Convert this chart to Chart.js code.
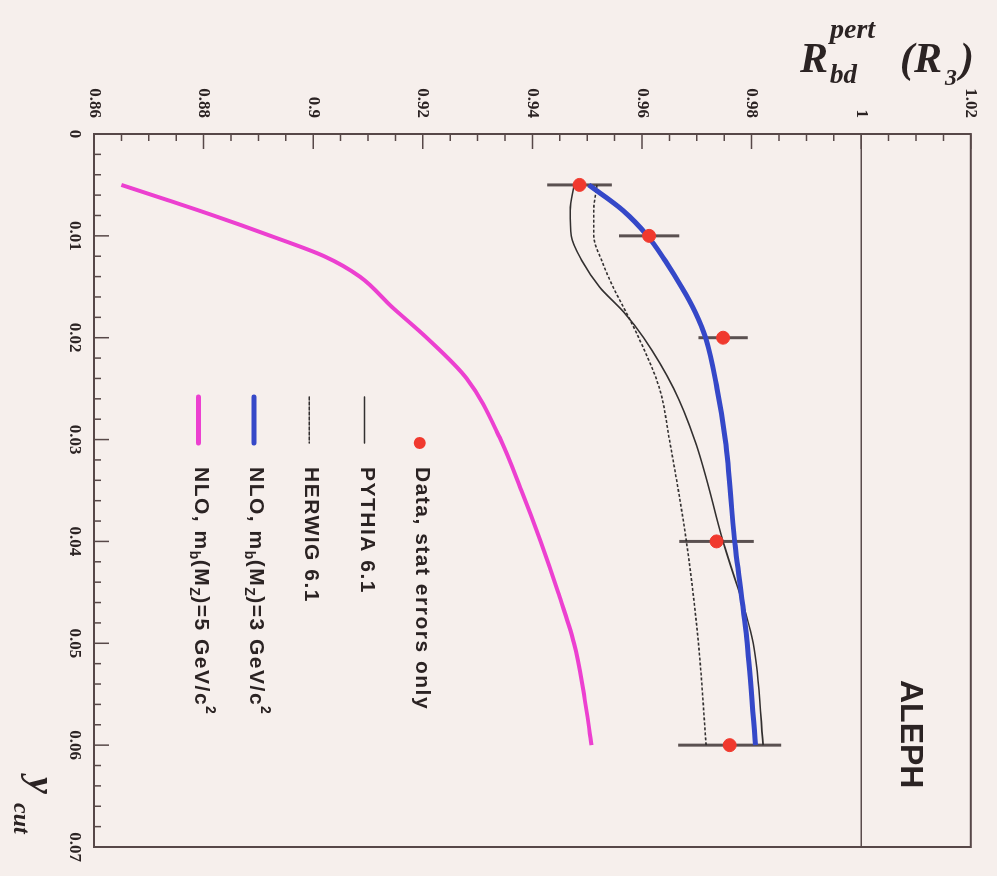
<!DOCTYPE html>
<html>
<head>
<meta charset="utf-8">
<script src="https://cdn.jsdelivr.net/npm/chart.js@4.4.0/dist/chart.umd.min.js"></script>
<style>
html, body { margin: 0; padding: 0; background: #f6efec; overflow: hidden; }
#wrap {
    position: absolute; left: 0; top: 0;
    width: 876px; height: 997px;
    transform-origin: 0 0;
    transform: translateX(997px) rotate(90deg);
}
</style>
</head>
<body>
<div id="wrap"><canvas id="chart" width="876" height="997"></canvas></div>
<script>
// measured points (y_cut, R) with stat errors
const dataYCut = [0.005, 0.01, 0.02, 0.04, 0.06];
const dataR = [0.9486, 0.9613, 0.9748, 0.9736, 0.9760];
const dataErr = [0.0059, 0.0055, 0.0045, 0.0068, 0.0094];

// MC / NLO curves
const curveYCut = [0.005, 0.0075, 0.01, 0.0125, 0.015, 0.0175, 0.02, 0.025, 0.03, 0.04, 0.05, 0.06];
const pythiaR = [0.9476, 0.9469, 0.9471, 0.9491, 0.9522, 0.9567, 0.9603, 0.9658, 0.9696, 0.9748, 0.9803, 0.9821];
const herwigR = [0.9518, 0.9512, 0.9512, 0.9527, 0.9547, 0.9571, 0.9594, 0.9632, 0.9650, 0.9681, 0.9703, 0.9717];
const nlo3R = [0.9503, 0.9565, 0.9610, 0.9643, 0.9672, 0.9697, 0.9716, 0.9737, 0.9752, 0.9769, 0.9792, 0.9807];

const nlo5YCut = [0.005, 0.0065, 0.008, 0.01, 0.012, 0.014, 0.017, 0.02, 0.024, 0.03, 0.035, 0.04, 0.045, 0.05, 0.055, 0.06];
const nlo5R = [0.8650, 0.8735, 0.8818, 0.8922, 0.9020, 0.9085, 0.9144, 0.9207, 0.9280, 0.9342, 0.9380, 0.9415, 0.9447, 0.9476, 0.9494, 0.9508];

// reference line at R = 1
const refYCut = [0, 0.07];
const refR = [1, 1];

// axes
const xTickValues = [0, 0.01, 0.02, 0.03, 0.04, 0.05, 0.06, 0.07];
const xTickLabels = ['0', '0.01', '0.02', '0.03', '0.04', '0.05', '0.06', '0.07'];
const yTickValues = [0.86, 0.88, 0.90, 0.92, 0.94, 0.96, 0.98, 1.00, 1.02];
const yTickLabels = ['0.86', '0.88', '0.9', '0.92', '0.94', '0.96', '0.98', '1', '1.02'];

const legendLabels = [
    [['Data, stat errors only', 'n']],
    [['PYTHIA 6.1', 'n']],
    [['HERWIG 6.1', 'n']],
    [['NLO, m', 'n'], ['b', 'sub'], ['(M', 'n'], ['Z', 'sub'], [')=3 GeV/c', 'n'], ['2', 'sup']],
    [['NLO, m', 'n'], ['b', 'sub'], ['(M', 'n'], ['Z', 'sub'], [')=5 GeV/c', 'n'], ['2', 'sup']]
];

const RED = '#f0392e';
const BLUE = '#3548c8';
const PINK = '#ec40d0';
const DARK = '#333030';
const INK = '#2b2323';

function pts(xs, ys) {
    return xs.map((v, i) => ({ x: v, y: ys[i] }));
}

function drawRich(ctx, parts, x, y, size) {
    let cx = x;
    parts.forEach(([text, kind]) => {
        const small = kind !== 'n';
        ctx.font = 'bold ' + (small ? Math.round(size * 0.68) : size) + 'px "Liberation Sans", Arial, sans-serif';
        ctx.letterSpacing = small ? '0.5px' : '1.5px';
        const dy = kind === 'sub' ? size * 0.32 : (kind === 'sup' ? -size * 0.42 : 0);
        ctx.fillText(text, cx, y + dy);
        cx += ctx.measureText(text).width;
    });
    ctx.letterSpacing = '0px';
}

const overlay = {
    id: 'overlay',
    beforeDatasetsDraw(chart) {
        const { ctx, scales: { x, y } } = chart;
        ctx.save();
        ctx.strokeStyle = '#5a5050';
        ctx.lineWidth = 3;
        dataYCut.forEach((v, i) => {
            const px = x.getPixelForValue(v);
            ctx.beginPath();
            ctx.moveTo(px, y.getPixelForValue(dataR[i] - dataErr[i]));
            ctx.lineTo(px, y.getPixelForValue(dataR[i] + dataErr[i]));
            ctx.stroke();
        });
        ctx.restore();
    },
    afterDraw(chart) {
        const { ctx, chartArea: a, scales: { x, y } } = chart;
        ctx.save();

        // frame
        ctx.strokeStyle = '#574848';
        ctx.lineWidth = 2;
        ctx.strokeRect(a.left, a.top, a.right - a.left, a.bottom - a.top);

        // inward ticks
        ctx.lineWidth = 1.5;
        ctx.beginPath();
        for (let k = 0; k <= 35; k++) {
            const px = x.getPixelForValue(k * 0.002);
            const len = k % 5 === 0 ? 15 : 7;
            ctx.moveTo(px, a.bottom);
            ctx.lineTo(px, a.bottom - len);
        }
        for (let k = 0; k <= 32; k++) {
            const py = y.getPixelForValue(0.86 + k * 0.005);
            const len = k % 4 === 0 ? 15 : 7;
            ctx.moveTo(a.left, py);
            ctx.lineTo(a.left + len, py);
        }
        ctx.stroke();

        // legend
        const rowY0 = a.top + 549;
        const rowStep = 55.3;
        const symX0 = a.left + 263;
        const symX1 = a.left + 309;
        const textX = a.left + 333;
        const styles = [
            { kind: 'point', color: RED },
            { kind: 'line', color: DARK, width: 1.6, dash: [] },
            { kind: 'line', color: DARK, width: 1.6, dash: [3, 2] },
            { kind: 'line', color: BLUE, width: 5, dash: [] },
            { kind: 'line', color: PINK, width: 5, dash: [] }
        ];
        legendLabels.forEach((parts, i) => {
            const ry = rowY0 + i * rowStep;
            const st = styles[i];
            if (st.kind === 'point') {
                ctx.fillStyle = st.color;
                ctx.beginPath();
                ctx.arc(symX1, ry + 2, 6, 0, Math.PI * 2);
                ctx.fill();
            } else {
                ctx.strokeStyle = st.color;
                ctx.lineWidth = st.width;
                ctx.lineCap = 'round';
                ctx.setLineDash(st.dash);
                ctx.beginPath();
                ctx.moveTo(symX0, ry + 2);
                ctx.lineTo(symX1, ry + 2);
                ctx.stroke();
                ctx.setLineDash([]);
                ctx.lineCap = 'butt';
            }
            ctx.fillStyle = INK;
            ctx.textBaseline = 'middle';
            ctx.textAlign = 'left';
            drawRich(ctx, parts, textX, ry, 21);
        });

        // experiment label
        ctx.fillStyle = INK;
        ctx.textBaseline = 'middle';
        ctx.font = 'bold 32px "Liberation Sans", Arial, sans-serif';
        ctx.fillText('ALEPH', a.left + 546, a.top + 61);

        // x axis title
        ctx.textBaseline = 'alphabetic';
        ctx.font = 'italic bold 38px "Liberation Serif", serif';
        ctx.fillText('y', a.right - 70, 968);
        ctx.font = 'italic bold 24px "Liberation Serif", serif';
        ctx.fillText('cut', a.right - 44, 983);

        // y axis title (reads upright once the page is turned)
        ctx.translate(0, chart.height);
        ctx.rotate(-Math.PI / 2);
        ctx.font = 'italic bold 42px "Liberation Serif", serif';
        ctx.fillText('R', 800, 72);
        ctx.fillText('(', 900, 72);
        ctx.fillText('R', 914, 72);
        ctx.fillText(')', 960, 72);
        ctx.font = 'italic bold 28px "Liberation Serif", serif';
        ctx.fillText('pert', 830, 38);
        ctx.font = 'italic bold 27px "Liberation Serif", serif';
        ctx.fillText('bd', 830, 83);
        ctx.font = 'italic bold 24px "Liberation Serif", serif';
        ctx.fillText('3', 945, 85);

        ctx.restore();
    }
};

const lineDefaults = {
    showLine: true,
    pointRadius: 0,
    fill: false,
    cubicInterpolationMode: 'monotone'
};

new Chart(document.getElementById('chart').getContext('2d'), {
    type: 'scatter',
    data: {
        datasets: [
            {
                label: 'Data, stat errors only',
                data: pts(dataYCut, dataR),
                backgroundColor: RED,
                borderColor: RED,
                pointRadius: 6.5,
                showLine: false,
                order: 0
            },
            Object.assign({
                label: 'PYTHIA 6.1',
                data: pts(curveYCut, pythiaR),
                borderColor: DARK,
                borderWidth: 1.6,
                order: 3
            }, lineDefaults),
            Object.assign({
                label: 'HERWIG 6.1',
                data: pts(curveYCut, herwigR),
                borderColor: DARK,
                borderWidth: 1.6,
                borderDash: [3, 2],
                order: 3
            }, lineDefaults),
            Object.assign({
                label: 'NLO mb=3',
                data: pts(curveYCut, nlo3R),
                borderColor: BLUE,
                borderWidth: 5,
                order: 2
            }, lineDefaults),
            Object.assign({
                label: 'NLO mb=5',
                data: pts(nlo5YCut, nlo5R),
                borderColor: PINK,
                borderWidth: 4,
                order: 2
            }, lineDefaults),
            Object.assign({
                label: 'R=1',
                data: pts(refYCut, refR),
                borderColor: '#5a4c4c',
                borderWidth: 1.5,
                order: 4
            }, lineDefaults)
        ]
    },
    options: {
        responsive: false,
        animation: false,
        events: [],
        layout: { padding: { left: 0, right: 29, top: 21, bottom: 0 } },
        plugins: {
            legend: { display: false },
            tooltip: { enabled: false }
        },
        scales: {
            x: {
                type: 'linear',
                min: 0,
                max: 0.07,
                grid: { display: false, drawTicks: false },
                border: { display: false },
                afterBuildTicks: (scale) => { scale.ticks = xTickValues.map((v) => ({ value: v })); },
                afterFit: (scale) => { scale.height = 94; },
                ticks: {
                    padding: 9,
                    maxRotation: 0,
                    autoSkip: false,
                    color: INK,
                    font: { family: '"Liberation Serif", serif', size: 17, weight: 'bold' },
                    callback: (value, index) => xTickLabels[index]
                }
            },
            y: {
                type: 'linear',
                min: 0.86,
                max: 1.02,
                grid: { display: false, drawTicks: false },
                border: { display: false },
                afterBuildTicks: (scale) => { scale.ticks = yTickValues.map((v) => ({ value: v })); },
                afterFit: (scale) => { scale.width = 134; },
                ticks: {
                    padding: 16,
                    autoSkip: false,
                    color: INK,
                    font: { family: '"Liberation Serif", serif', size: 17, weight: 'bold' },
                    callback: (value, index) => yTickLabels[index]
                }
            }
        }
    },
    plugins: [overlay]
});
</script>
</body>
</html>
